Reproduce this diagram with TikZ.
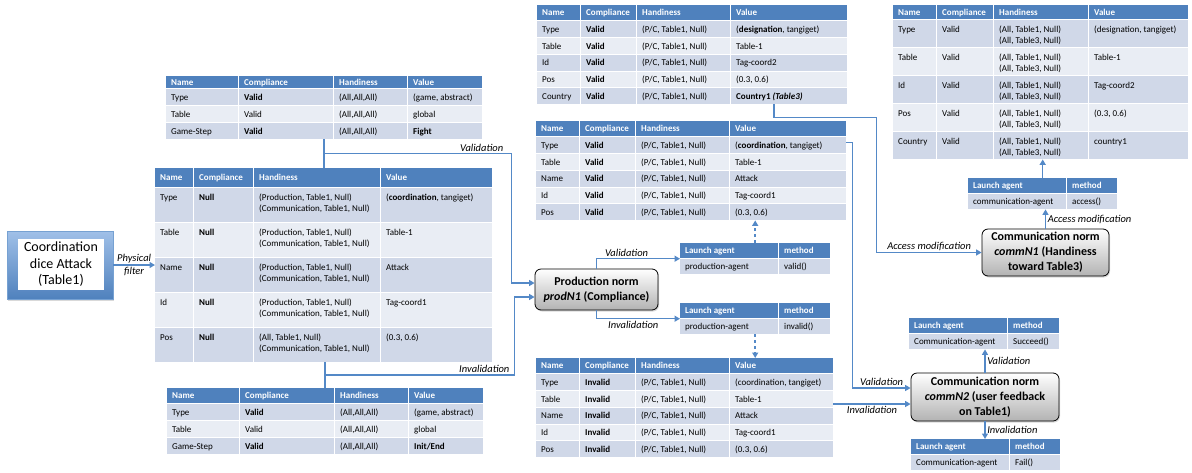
\documentclass[tikz,border=0pt]{standalone}
\usepackage{fontspec}
\setmainfont{Carlito}
\usepackage{colortbl}
\usetikzlibrary{arrows.meta,calc,shadows}

\definecolor{hdr}{RGB}{79,129,189}
\definecolor{rowA}{RGB}{208,216,232}
\definecolor{rowB}{RGB}{233,237,244}
\definecolor{lnk}{RGB}{84,137,199}

\newcolumntype{L}[1]{>{\raggedright\arraybackslash}p{#1}}
\newcommand{\rs}[2]{\rule[-#2]{0pt}{\dimexpr#1+#2\relax}}
\newcommand{\hd}[1]{\textcolor{white}{\bfseries #1}}
\arrayrulecolor{white}
\setlength{\arrayrulewidth}{1pt}
\setlength{\tabcolsep}{5pt}
\renewcommand{\arraystretch}{0.5}

\tikzset{
  tbl/.style={anchor=north west, inner sep=0pt, font=\fontsize{9}{11}\selectfont},
  norm/.style={draw=black, line width=0.8pt, rounded corners=6pt, top color=white,
    bottom color=black!30, align=center, inner sep=1pt,
    drop shadow={shadow xshift=1pt, shadow yshift=-1.5pt, opacity=0.3},
    font=\fontsize{12}{15}\selectfont\bfseries},
  conn/.style={draw=lnk, line width=1.5pt},
  tip/.style={-{Triangle[length=5.5pt,width=6pt]}},
  lbl/.style={font=\fontsize{10.5}{12}\selectfont\itshape, inner sep=1.5pt},
}

\begin{document}
\begin{tikzpicture}[x=1pt, y=-1pt]

	\useasboundingbox (0,0) rectangle (1192,472);

	% Coordination event
	
	\node [draw=lnk!80, top color={rgb,255:red,160;green,192;blue,232}, bottom color=hdr,
		drop shadow={shadow xshift=1pt, shadow yshift=-1.5pt, opacity=0.3},
		minimum width=106pt, minimum height=68pt] (srcbg) at (60,265) {};
	\node [fill=white, minimum width=86pt, minimum height=51pt, inner sep=0pt, align=center,
		font=\fontsize{14}{16.5}\selectfont] (src) at (61,264.5) {Coordination\\dice Attack\\(Table1)};
	
	% Game tables and the event's table
	
	\node [tbl] (tlt) at (166,76) {%
		\begin{tabular}{L{62pt}|L{84pt}|L{63pt}|L{64pt}}
		\rowcolor{hdr}\rs{9pt}{3pt}\hd{Name} & \hd{Compliance} & \hd{Handiness} & \hd{Value}\\\hline
		\rowcolor{rowA}\rs{11pt}{5pt}Type & \textbf{Valid} & (All,All,All) & (game, abstract)\\\hline
		\rowcolor{rowB}\rs{11pt}{5pt}Table & Valid & (All,All,All) & global\\\hline
		\rowcolor{rowA}\rs{11pt}{5pt}Game-Step & \textbf{Valid} & (All,All,All) & \textbf{Fight}
		\end{tabular}};
	
	\node [tbl] (big) at (155,168) {%
		\begin{tabular}{L{28pt}|L{49pt}|L{116pt}|L{101pt}}
		\rowcolor{hdr}\rs{12.5pt}{6.5pt}\hd{Name} & \hd{Compliance} & \hd{Handiness} & \hd{Value}\\\hline
		\rowcolor{rowA}\rs{12.5pt}{21.5pt}Type & \textbf{Null} & (Production, Table1, Null)\newline(Communication, Table1, Null) & (\textbf{coordination}, tangiget)\\\hline
		\rowcolor{rowB}\rs{12.5pt}{21.5pt}Table & \textbf{Null} & (Production, Table1, Null)\newline(Communication, Table1, Null) & Table-1\\\hline
		\rowcolor{rowA}\rs{12.5pt}{21.5pt}Name & \textbf{Null} & (Production, Table1, Null)\newline(Communication, Table1, Null) & Attack\\\hline
		\rowcolor{rowB}\rs{12.5pt}{21.5pt}Id & \textbf{Null} & (Production, Table1, Null)\newline(Communication, Table1, Null) & Tag-coord1\\\hline
		\rowcolor{rowA}\rs{12.5pt}{21.5pt}Pos & \textbf{Null} & (All, Table1, Null)\newline(Communication, Table1, Null) & (0.3, 0.6)
		\end{tabular}};
	
	\node [tbl] (blt) at (167,388) {%
		\begin{tabular}{L{62pt}|L{84pt}|L{63pt}|L{64pt}}
		\rowcolor{hdr}\rs{10.5pt}{4.5pt}\hd{Name} & \hd{Compliance} & \hd{Handiness} & \hd{Value}\\\hline
		\rowcolor{rowA}\rs{11pt}{5pt}Type & \textbf{Valid} & (All,All,All) & (game, abstract)\\\hline
		\rowcolor{rowB}\rs{11pt}{5pt}Table & Valid & (All,All,All) & global\\\hline
		\rowcolor{rowA}\rs{11pt}{5pt}Game-Step & \textbf{Valid} & (All,All,All) & \textbf{Init/End}
		\end{tabular}};
	
	% Tables of the production norm
	
	\node [tbl] (dsg) at (537,5) {%
		\begin{tabular}{L{33pt}|L{45pt}|L{83pt}|L{106pt}}
		\rowcolor{hdr}\rs{10.5pt}{4.5pt}\hd{Name} & \hd{Compliance} & \hd{Handiness} & \hd{Value}\\\hline
		\rowcolor{rowA}\rs{11pt}{4.8pt}Type & \textbf{Valid} & (P/C, Table1, Null) & (\textbf{designation}, tangiget)\\\hline
		\rowcolor{rowB}\rs{11pt}{4.8pt}Table & \textbf{Valid} & (P/C, Table1, Null) & Table-1\\\hline
		\rowcolor{rowA}\rs{11pt}{4.8pt}Id & \textbf{Valid} & (P/C, Table1, Null) & Tag-coord2\\\hline
		\rowcolor{rowB}\rs{11pt}{4.8pt}Pos & \textbf{Valid} & (P/C, Table1, Null) & (0.3, 0.6)\\\hline
		\rowcolor{rowA}\rs{11pt}{4.8pt}Country & \textbf{Valid} & (P/C, Table1, Null) & \textbf{Country1 \textit{(Table3)}}
		\end{tabular}};
	
	\node [tbl] (crd) at (536,121) {%
		\begin{tabular}{L{33pt}|L{45pt}|L{83pt}|L{106pt}}
		\rowcolor{hdr}\rs{10.5pt}{4.5pt}\hd{Name} & \hd{Compliance} & \hd{Handiness} & \hd{Value}\\\hline
		\rowcolor{rowA}\rs{11pt}{4.8pt}Type & \textbf{Valid} & (P/C, Table1, Null) & (\textbf{coordination}, tangiget)\\\hline
		\rowcolor{rowB}\rs{11pt}{4.8pt}Table & \textbf{Valid} & (P/C, Table1, Null) & Table-1\\\hline
		\rowcolor{rowA}\rs{11pt}{4.8pt}Name & \textbf{Valid} & (P/C, Table1, Null) & Attack\\\hline
		\rowcolor{rowB}\rs{11pt}{4.8pt}Id & \textbf{Valid} & (P/C, Table1, Null) & Tag-coord1\\\hline
		\rowcolor{rowA}\rs{11pt}{4.8pt}Pos & \textbf{Valid} & (P/C, Table1, Null) & (0.3, 0.6)
		\end{tabular}};
	
	\node [tbl] (inv) at (536,358) {%
		\begin{tabular}{L{33pt}|L{45pt}|L{83pt}|L{93pt}}
		\rowcolor{hdr}\rs{10.5pt}{4.5pt}\hd{Name} & \hd{Compliance} & \hd{Handiness} & \hd{Value}\\\hline
		\rowcolor{rowA}\rs{11pt}{4.8pt}Type & \textbf{Invalid} & (P/C, Table1, Null) & (coordination, tangiget)\\\hline
		\rowcolor{rowB}\rs{11pt}{4.8pt}Table & \textbf{Invalid} & (P/C, Table1, Null) & Table-1\\\hline
		\rowcolor{rowA}\rs{11pt}{4.8pt}Name & \textbf{Invalid} & (P/C, Table1, Null) & Attack\\\hline
		\rowcolor{rowB}\rs{11pt}{4.8pt}Id & \textbf{Invalid} & (P/C, Table1, Null) & Tag-coord1\\\hline
		\rowcolor{rowA}\rs{11pt}{4.8pt}Pos & \textbf{Invalid} & (P/C, Table1, Null) & (0.3, 0.6)
		\end{tabular}};
	
	\node [tbl] (rtt) at (893,5) {%
		\begin{tabular}{L{33pt}|L{46pt}|L{84pt}|L{89pt}}
		\rowcolor{hdr}\rs{10pt}{4pt}\hd{Name} & \hd{Compliance} & \hd{Handiness} & \hd{Value}\\\hline
		\rowcolor{rowA}\rs{12pt}{15pt}Type & Valid & (All, Table1, Null)\newline(All, Table3, Null) & (designation, tangiget)\\\hline
		\rowcolor{rowB}\rs{12pt}{15pt}Table & Valid & (All, Table1, Null)\newline(All, Table3, Null) & Table-1\\\hline
		\rowcolor{rowA}\rs{12pt}{15pt}Id & Valid & (All, Table1, Null)\newline(All, Table3, Null) & Tag-coord2\\\hline
		\rowcolor{rowB}\rs{12pt}{15pt}Pos & Valid & (All, Table1, Null)\newline(All, Table3, Null) & (0.3, 0.6)\\\hline
		\rowcolor{rowA}\rs{12pt}{15pt}Country & Valid & (All, Table1, Null)\newline(All, Table3, Null) & country1
		\end{tabular}};
	
	% Launch agents
	
	\node [tbl] (laV) at (680,243) {%
		\begin{tabular}{L{88pt}|L{41pt}}
		\rowcolor{hdr}\rs{10.5pt}{4.5pt}\hd{Launch agent} & \hd{method}\\\hline
		\rowcolor{rowA}\rs{10.5pt}{4.5pt}production-agent & valid()
		\end{tabular}};
	\node [tbl] (laI) at (680,303) {%
		\begin{tabular}{L{88pt}|L{41pt}}
		\rowcolor{hdr}\rs{10.5pt}{4.5pt}\hd{Launch agent} & \hd{method}\\\hline
		\rowcolor{rowA}\rs{10.5pt}{4.5pt}production-agent & invalid()
		\end{tabular}};
	\node [tbl] (laA) at (968,178) {%
		\begin{tabular}{L{88pt}|L{40pt}}
		\rowcolor{hdr}\rs{10.5pt}{4.5pt}\hd{Launch agent} & \hd{method}\\\hline
		\rowcolor{rowA}\rs{10.5pt}{4.5pt}communication-agent & access()
		\end{tabular}};
	\node [tbl] (laS) at (909,318) {%
		\begin{tabular}{L{88pt}|L{41pt}}
		\rowcolor{hdr}\rs{10.5pt}{4.5pt}\hd{Launch agent} & \hd{method}\\\hline
		\rowcolor{rowA}\rs{10.5pt}{4.5pt}Communication-agent & Succeed()
		\end{tabular}};
	\node [tbl] (laF) at (911,439) {%
		\begin{tabular}{L{88pt}|L{40pt}}
		\rowcolor{hdr}\rs{10.5pt}{4.5pt}\hd{Launch agent} & \hd{method}\\\hline
		\rowcolor{rowA}\rs{10.5pt}{4.5pt}Communication-agent & Fail()
		\end{tabular}};
	
	% Norms
	
	\node [norm, minimum width=123pt, minimum height=41pt] (prod) at (596.5,289.5) {Production norm\\\textit{prodN1} (Compliance)};
	\node [norm, minimum width=127pt, minimum height=47pt] (cn1) at (1045.5,252.5) {Communication norm\\\textit{commN1} (Handiness\\toward Table3)};
	\node [norm, minimum width=148pt, minimum height=48pt] (cn2) at (985,397) {Communication norm\\\textit{commN2} (user feedback\\on Table1)};
	
	% Connectors
	
	\draw [conn, tip] (srcbg.east) -- node [lbl, above] {Physical} node [lbl, below] {filter} (srcbg.east -| big.west);
	
	\coordinate (vj) at ($(tlt.south)!0.5!(tlt.south |- big.north)$);
	\coordinate (ij) at ($(blt.north)!0.5!(blt.north |- big.south)$);
	\coordinate (pv) at ([yshift=6.5pt]prod.west);
	\coordinate (pi) at ([yshift=-7.5pt]prod.west);
	\draw [conn] (tlt.south) -- (tlt.south |- big.north);
	\draw [conn] (blt.north) -- (blt.north |- big.south);
	\draw [conn, tip] (vj) -| node [lbl, above, pos=0.42] {Validation} ([xshift=-23pt]pv) -- (pv);
	\draw [conn, tip] (ij) -| node [lbl, above, pos=0.42] {Invalidation} ([xshift=-20pt]pi) -- (pi);
	
	\draw [conn, tip] (prod.north) |- node [lbl, above, pos=0.68] {Validation} (laV.west);
	\draw [conn, tip] (prod.south) |- node [lbl, below, pos=0.72] {Invalidation} (laI.west);
	\draw [conn, tip, dashed] (laV.north) -- (laV.north |- crd.south);
	\draw [conn, tip, dashed] (laI.south) -- (laI.south |- inv.north);
	
	\coordinate (ds) at ([xshift=82pt]dsg.south);
	\coordinate (ak) at ([xshift=-105pt]cn1.west);
	\draw [conn, tip] (ds) -- ++(0,13) -| (ak) -- node [lbl, above] {Access modification} (cn1.west);
	\draw [conn, tip] (cn1.north) -- node [lbl, right] {Access modification} (cn1.north |- laA.south);
	\draw [conn, tip] (laA.north) -- (laA.north |- rtt.south);
	
	\coordinate (cv) at ([yshift=9pt]cn2.west);
	\coordinate (ci) at ([yshift=-7pt]cn2.west);
	\draw [conn, tip] ([yshift=28pt]crd.east) -| ([xshift=-58pt]cv) -- node [lbl, above] {Validation} (cv);
	\draw [conn, tip] (inv.east |- ci) -- node [lbl, below] {Invalidation} (ci);
	\draw [conn, tip] (cn2.north) -- node [lbl, right] {Validation} (cn2.north |- laS.south);
	\draw [conn, tip] (cn2.south) -- node [lbl, right] {Invalidation} (cn2.south |- laF.north);

\end{tikzpicture}
\end{document}
